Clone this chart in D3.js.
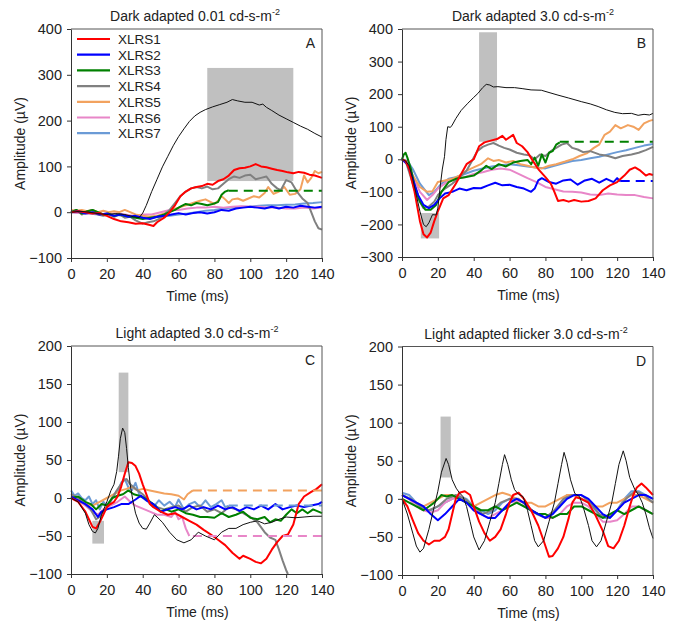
<!DOCTYPE html>
<html>
<head>
<meta charset="utf-8">
<script src="https://cdn.jsdelivr.net/npm/d3@7"></script>
<style>
  body { margin: 0; background: #fff; }
  svg { font-family: "Liberation Sans", Arial, sans-serif; }
</style>
</head>
<body>
<svg id="chart" width="678" height="623"></svg>
<script>
/* global d3: false */

const names = ['XLRS1', 'XLRS2', 'XLRS3', 'XLRS4', 'XLRS5', 'XLRS6', 'XLRS7'];
const colors = ['#ff0000', '#0000ff', '#008000', '#808080', '#f2a25f', '#e886c8', '#6b9bd6'];
const timeTicks = [0, 20, 40, 60, 80, 100, 120, 140];

// normal ranges: [t0, t1, low, high]
const aRange = [[76, 124, 68, 315]];
const bRange = [[43, 53, 54, 390], [10.5, 20.7, -243, -165]];
const cRange = [[26.6, 32, 34, 165], [11.9, 18.4, -60, -30]];
const dRange = [[21.5, 27.2, 28, 108]];

// ---- panel A: dark adapted 0.01 ----
const aNormal = [[0,0],[5,2],[10,0],[15,-3],[20,-5],[25,-3],[30,-5],[35,-10],[38,-12],[40,-2],[42,15],[45,45],[48,72],[51,99],[54,122],[57,145],[60,165],[63,182],[66,198],[69,210],[72,218],[75,224],[79,230],[83,235],[87,240],[90,246],[93,243],[97,240],[101,240],[105,234],[107,236],[109,229],[112,222],[116,212],[120,204],[124,196],[128,188],[132,181],[136,172],[140,164]];
const aX1 = [[0,0],[4,2],[8,0],[12,-3],[16,-2],[20,-8],[24,-15],[28,-20],[32,-22],[36,-25],[40,-24],[44,-28],[46,-30],[48,-22],[52,-12],[55,0],[58,15],[61,35],[64,45],[67,52],[70,55],[73,57],[76,62],[79,60],[82,68],[85,72],[88,80],[91,92],[94,96],[97,97],[100,100],[103,105],[106,100],[109,98],[112,95],[115,92],[118,90],[121,87],[124,85],[127,88],[130,86],[133,82],[136,80],[140,75]];
const aX2 = [[0,0],[4,2],[8,-3],[12,0],[16,-5],[20,-3],[24,-8],[28,-5],[32,-10],[36,-8],[40,-12],[44,-15],[48,-10],[52,-8],[56,-5],[60,-2],[64,-5],[68,-2],[72,0],[76,-3],[80,0],[84,5],[88,3],[92,8],[96,10],[100,12],[104,10],[108,8],[112,12],[116,8],[120,12],[124,10],[128,14],[132,12],[136,10],[140,12]];
const aX3 = [[0,0],[3,5],[6,-3],[9,2],[12,5],[15,0],[18,-5],[21,-3],[24,-8],[27,-5],[30,-8],[33,-10],[36,-12],[40,-15],[44,-12],[48,-10],[52,-5],[55,0],[58,5],[61,12],[64,18],[67,15],[70,20],[73,18],[76,15],[79,18],[82,22],[84,38],[86,45],[88,48]];
const aX3Dash = [[88,47],[140,47]];
const aX4 = [[0,0],[3,5],[6,-5],[9,0],[12,5],[15,-5],[18,-8],[21,-5],[24,-10],[27,-5],[30,-12],[33,-10],[36,-18],[40,-25],[43,-22],[46,-20],[49,-15],[52,-5],[55,5],[58,20],[61,35],[64,45],[67,52],[70,55],[73,52],[76,56],[79,50],[82,52],[85,62],[88,72],[91,78],[94,75],[97,80],[100,82],[103,72],[106,75],[109,78],[112,62],[115,52],[117,48],[120,70],[123,65],[126,45],[129,30],[132,20],[134,0],[136,-20],[138,-35],[140,-38]];
const aX5 = [[0,5],[3,3],[6,5],[9,2],[12,5],[15,0],[18,3],[21,0],[24,2],[27,0],[30,5],[33,0],[36,-5],[40,-8],[44,-10],[48,-8],[52,-3],[56,5],[60,10],[64,15],[68,20],[72,25],[75,28],[78,22],[80,18],[82,25],[84,35],[86,28],[88,20],[90,28],[93,30],[96,25],[99,30],[102,35],[105,32],[108,42],[110,55],[113,40],[116,45],[119,55],[122,38],[125,40],[128,50],[130,80],[132,65],[134,75],[136,90],[138,85],[140,88]];
const aX6 = [[0,0],[5,-2],[10,-3],[15,-2],[20,-5],[25,-3],[30,-5],[35,-8],[40,-5],[45,-5],[50,0],[55,5],[60,5],[65,8],[70,10],[75,10],[80,12],[85,10],[90,12],[95,13],[100,12],[105,12],[110,10],[115,10],[120,8],[125,8],[130,10],[135,8],[140,10]];
const aX7 = [[0,0],[5,-2],[10,-3],[15,-5],[20,-5],[25,-6],[30,-8],[35,-10],[40,-10],[45,-12],[50,-10],[55,-8],[60,-5],[65,-3],[70,0],[75,3],[80,5],[85,8],[90,10],[95,12],[100,12],[105,14],[110,15],[115,15],[120,16],[125,17],[130,19],[135,20],[140,22]];

// ---- panel B: dark adapted 3.0 ----
const bNormal = [[0,0],[2,-5],[4,-20],[6,-60],[8,-110],[10,-160],[12,-200],[13.5,-207],[15,-195],[17,-170],[19,-171],[20,-150],[21.4,-79],[22.5,-30],[23.7,8],[24.5,60],[25.5,100],[27,98],[28,105],[30,125],[33,150],[36.7,172],[40,190],[42.3,202],[45,220],[47,230],[49,228],[51,222],[53.5,223],[58,220],[62.8,220],[67,217],[72,213],[77.7,212],[82,205],[87,197],[93,188],[100,177],[105,170],[109.4,162],[114,152],[118.7,144],[123,140],[128,141],[131.7,135],[135,138],[138,136],[140,141]];
const bX1 = [[0,0],[2,-5],[4,-30],[7,-100],[10,-190],[12,-230],[14,-240],[16,-225],[18,-190],[20,-160],[23,-120],[26,-110],[30,-75],[33,-45],[36,-15],[40,0],[43,40],[46,52],[50,58],[53,62],[56,72],[58,60],[62,75],[64,50],[67,40],[70,22],[73,-5],[76,-30],[80,-55],[83,-75],[85,-100],[87,-128],[90,-125],[93,-130],[96,-125],[100,-130],[104,-128],[108,-120],[112,-95],[116,-80],[120,-70],[124,-50],[127,-32],[130,-25],[133,-35],[136,-50],[138,-45],[140,-48]];
const bX2 = [[0,0],[3,-15],[6,-60],[9,-110],[12,-140],[15,-150],[18,-140],[21,-120],[24,-105],[28,-100],[32,-90],[36,-95],[40,-88],[44,-89],[48,-80],[52,-72],[56,-80],[60,-78],[64,-85],[68,-90],[72,-100],[74,-90],[76,-65],[78,-58],[82,-70],[86,-75],[90,-65],[94,-62],[98,-78],[102,-65],[106,-60],[110,-72],[114,-60],[118,-70],[120,-58],[122,-68]];
const bX2Dash = [[122,-67],[140,-67]];
const bX3 = [[0,0],[1,15],[2,20],[3,5],[5,-30],[7,-80],[10,-130],[13,-155],[16,-155],[19,-140],[22,-100],[26,-70],[30,-60],[35,-55],[40,-50],[44,-35],[47,-20],[50,-30],[54,-15],[58,-22],[62,-10],[66,-5],[70,-2],[72,-15],[74,5],[76,-20],[78,15],[80,-10],[82,20],[84,25],[86,45],[88,52]];
const bX3Dash = [[88,54],[140,54]];
const bX4 = [[0,0],[2,-5],[4,-40],[8,-110],[12,-150],[15,-145],[18,-130],[20,-110],[24,-90],[28,-75],[32,-55],[36,-35],[39,-5],[42,25],[45,38],[48,45],[51,50],[54,42],[57,35],[60,30],[64,20],[68,15],[71,12],[74,0],[77,15],[80,10],[83,25],[86,35],[89,45],[92,50],[95,35],[98,30],[101,22],[105,25],[110,15],[115,10],[119,3],[123,10],[128,15],[132,20],[136,28],[140,38]];
const bX5 = [[0,0],[3,-15],[6,-50],[10,-85],[14,-100],[17,-98],[20,-70],[24,-65],[28,-60],[32,-50],[35,-38],[40,-25],[44,-15],[48,3],[51,-5],[54,-2],[58,-10],[62,-5],[66,-15],[70,-20],[74,-25],[78,-28],[82,-20],[86,-15],[91,-7],[95,0],[99,10],[103,18],[107,35],[110,45],[113,75],[116,85],[119,105],[122,95],[126,105],[129,100],[132,90],[135,110],[138,118],[140,121]];
const bX6 = [[0,0],[3,-10],[6,-50],[10,-100],[14,-125],[17,-110],[20,-90],[25,-70],[30,-60],[35,-55],[40,-45],[45,-40],[50,-32],[55,-28],[60,-32],[65,-45],[70,-58],[75,-70],[80,-85],[85,-92],[90,-99],[95,-100],[100,-102],[105,-108],[110,-110],[115,-105],[120,-108],[125,-110],[130,-110],[135,-116],[140,-120]];
const bX7 = [[0,0],[3,-5],[6,-30],[10,-75],[15,-110],[18,-100],[22,-75],[26,-60],[30,-55],[35,-45],[40,-35],[45,-28],[50,-22],[55,-18],[60,-15],[65,-18],[70,-22],[75,-25],[80,-28],[85,-20],[90,-12],[95,-5],[100,-2],[105,3],[110,8],[115,15],[120,22],[125,28],[130,35],[135,42],[140,47]];

// ---- panel C: light adapted 3.0 ----
const cNormal = [[0,0],[4,-5],[8,-20],[10,-35],[12,-44],[13.6,-46],[15,-40],[17,-22],[20,-5],[22.3,10],[24,18],[25.5,35],[26.5,55],[27.5,78],[28.8,92],[30,86],[31,65],[32,40],[33,18],[34.4,-2],[36,-20],[38,-33],[40,-40],[42,-41],[44,-33],[46.5,-22],[48,-25],[51,-32],[55,-45],[59,-55],[63,-59],[67,-55],[71,-45],[75,-50],[80,-55],[84,-45],[88,-40],[92,-40],[96,-35],[100,-32],[104,-30],[108,-34],[112,-32],[116,-28],[120,-25],[125,-26],[130,-25],[135,-24],[140,-24]];
const cX1 = [[0,0],[4,-5],[8,-18],[10,-28],[12,-38],[14,-40],[16,-32],[18,-22],[20,-12],[22,-8],[24,-5],[26,2],[28,15],[30,32],[32,47],[34,46],[36,42],[38,32],[40,18],[42,5],[44,-8],[46,-12],[50,-18],[54,-22],[58,-20],[62,-25],[66,-30],[70,-35],[74,-42],[78,-48],[82,-55],[86,-62],[90,-72],[94,-80],[96,-76],[100,-80],[103,-84],[106,-86],[109,-80],[112,-68],[115,-58],[118,-50],[121,-48],[124,-35],[127,-8],[130,2],[134,8],[137,12],[140,18]];
const cX2 = [[0,2],[4,-3],[8,-8],[12,-15],[15,-25],[17,-18],[20,-15],[24,-12],[28,-8],[32,-8],[36,-2],[39,3],[42,-3],[46,-8],[50,-18],[54,-15],[58,-12],[62,-15],[66,-10],[70,-15],[74,-12],[78,-15],[82,-10],[86,-15],[90,-12],[94,-17],[98,-12],[102,-15],[106,-10],[110,-15],[114,-8],[118,-15],[122,-12],[126,-10],[130,-12],[134,-10],[138,-8],[140,-5]];
const cX3 = [[0,0],[4,2],[8,-5],[11,-8],[14,-15],[17,-8],[20,-10],[23,0],[26,3],[29,5],[32,10],[35,5],[38,3],[41,0],[44,-5],[47,-10],[50,-18],[53,-15],[56,-18],[60,-15],[64,-20],[68,-22],[72,-25],[76,-25],[80,-26],[84,-20],[88,-25],[92,-22],[96,-18],[100,-26],[104,-28],[108,-25],[111,-32],[114,-28],[117,-30],[120,-22],[123,-15],[126,-20],[129,-15],[132,-20],[135,-15],[138,-18],[140,-20]];
const cX4 = [[0,5],[4,0],[8,-8],[11,-15],[14,-28],[16,-25],[19,-15],[22,-5],[25,8],[27,15],[29,22],[31,25],[33,18],[36,12],[40,5],[44,-5],[48,-12],[52,-15],[56,-12],[60,-10],[64,-18],[68,-12],[72,-10],[76,-18],[80,-15],[84,-20],[88,-12],[92,-15],[96,-20],[100,-25],[104,-32],[108,-45],[111,-52],[114,-55],[116,-68],[118,-82],[120,-95],[121,-100]];
const cX5 = [[0,0],[4,-3],[8,-8],[12,-10],[16,-5],[20,0],[24,5],[28,10],[31,12],[34,15],[37,10],[40,12],[44,10],[48,8],[52,6],[56,5],[60,3],[63,-2],[65,5],[68,10]];
const cX5Dash = [[68,10],[140,10]];
const cX6 = [[0,0],[4,-3],[8,-10],[12,-18],[15,-22],[18,-15],[22,-10],[26,-5],[30,2],[33,-5],[36,-10],[40,-14],[44,-18],[48,-22],[52,-22],[56,-25],[58,-18],[60,-28],[62,-25],[64,-40],[66,-50]];
const cX6Dash = [[68,-50],[140,-50]];
const cX7 = [[0,10],[2,3],[4,6],[6,0],[8,-3],[10,2],[12,-8],[14,-3],[16,-15],[18,-5],[20,-10],[22,-3],[24,5],[26,8],[28,20],[30,25],[32,14],[34,10],[36,20],[38,5],[40,0],[43,-5],[46,-12],[49,-3],[52,-10],[55,-5],[58,-12],[60,-2],[63,-15],[66,-8],[69,-5],[72,-12],[75,-3],[78,-12],[81,-8],[84,-3],[86,-12],[88,-10]];
const cX7Dash = [[88,-10],[140,-10]];

// ---- panel D: light adapted flicker 3.0 ----
const dNormal = [[0,0],[3,-20],[6,-45],[8,-62],[10,-70],[12,-65],[15,-40],[18,-10],[20,10],[22,35],[24.6,53],[26,45],[28,25],[30.2,14],[32,8],[34,3],[36,-10],[38,-30],[40,-50],[43,-67],[46,-55],[49,-30],[52,-5],[54,20],[56,45],[57.2,58],[59,45],[61,25],[62.8,12],[65,6],[67.5,3],[70,-15],[72,-35],[74,-55],[76,-63],[79,-55],[82,-30],[85,-5],[87,20],[89,45],[90.4,61],[92,48],[94,25],[96.4,7],[99,3],[101,-10],[104,-35],[106,-55],[108.5,-63],[111,-55],[114,-30],[117,-5],[119,20],[121,45],[123.4,63],[125,50],[127,28],[129.9,12],[132,5],[134,-5],[136,-20],[138,-38],[140,-52]];
const dX1 = [[0,0],[3,-10],[6,-28],[9,-45],[12,-55],[15,-60],[18,-55],[21,-55],[24,-50],[26,-40],[28,-20],[30,0],[32,8],[35,10],[38,5],[40,-10],[43,-30],[46,-45],[49,-55],[52,-50],[55,-40],[58,-20],[60,-5],[62,5],[65,8],[68,0],[72,-15],[76,-35],[79,-55],[82,-76],[84,-75],[87,-65],[90,-50],[93,-25],[95,-5],[97,2],[100,0],[104,-5],[108,-22],[112,-42],[115,-62],[118,-65],[121,-55],[124,-35],[127,-10],[129,5],[131,15],[133.6,20],[136,15],[138,10],[140,5]];
const dX2 = [[0,5],[4,0],[8,-5],[12,-10],[16,-20],[20,-28],[24,-20],[28,-10],[32,0],[36,-5],[40,-15],[44,-20],[48,-25],[52,-25],[56,-15],[60,-5],[64,0],[68,-5],[72,-15],[76,-20],[80,-25],[84,-20],[88,-10],[92,0],[96,5],[100,5],[104,0],[108,-10],[112,-20],[116,-25],[120,-15],[124,-5],[128,0],[132,5],[136,5],[140,0]];
const dX3 = [[0,0],[4,-5],[8,-10],[12,-15],[15,-10],[18,-5],[20,0],[22,5],[25,3],[28,5],[32,0],[36,-5],[40,-10],[44,-15],[48,-15],[52,-10],[56,-15],[60,-10],[64,-5],[68,-10],[72,-15],[76,-20],[80,-20],[84,-25],[88,-20],[92,-20],[96,-10],[100,-10],[104,-15],[108,-20],[112,-25],[116,-20],[120,-15],[124,-20],[128,-15],[132,-10],[136,-15],[140,-20]];
const dX4 = [[0,5],[5,0],[10,-10],[15,-15],[20,-10],[25,0],[30,5],[35,0],[40,-10],[45,-20],[50,-15],[55,-5],[60,0],[65,0],[70,-10],[75,-20],[80,-25],[85,-15],[90,0],[95,5],[100,5],[105,-5],[110,-20],[115,-25],[120,-15],[125,0],[130,10],[135,5],[140,-5]];
const dX5 = [[0,5],[4,0],[8,-5],[12,-10],[16,-5],[20,0],[24,5],[28,5],[32,0],[36,-5],[40,-10],[44,-5],[48,0],[52,5],[56,8],[60,5],[64,0],[68,-5],[72,-5],[76,-10],[80,-10],[84,-5],[88,0],[92,5],[96,5],[100,0],[104,-5],[108,-10],[112,-10],[116,-5],[120,-5],[124,0],[128,5],[132,5],[136,0],[140,-5]];
const dX6 = [[0,5],[4,0],[8,-10],[12,-15],[16,-18],[20,-15],[24,-5],[28,0],[32,5],[36,-5],[40,-15],[44,-20],[48,-25],[52,-20],[56,-15],[60,-5],[64,-3],[68,-5],[72,-15],[76,-20],[80,-25],[84,-25],[88,-20],[92,-10],[96,-5],[100,-5],[104,-10],[108,-20],[112,-30],[116,-30],[120,-28],[124,-20],[128,-10],[132,-10],[136,-15],[140,-20]];
const dX7 = [[0,8],[4,5],[8,-5],[12,-15],[16,-15],[20,-10],[24,-5],[28,0],[32,3],[36,0],[40,-10],[44,-15],[48,-20],[52,-15],[56,-5],[60,0],[64,-5],[68,-10],[72,-15],[76,-20],[80,-25],[84,-20],[88,-10],[92,5],[96,5],[100,0],[104,-5],[108,-15],[112,-25],[116,-25],[120,-15],[124,0],[128,10],[132,10],[136,5],[140,0]];

const panels = [
  {
    x0: 71, x1: 322, y0: 29, y1: 258, domain: [-100, 400], ticks: d3.range(-100, 401, 100),
    title: 'Dark adapted 0.01 cd-s-m', titleX: 195, letter: 'A',
    range: aRange, normal: aNormal,
    series: [aX1, aX2, aX3, aX4, aX5, aX6, aX7],
    dashes: [[2, aX3Dash]], legend: true,
  },
  {
    x0: 402, x1: 653, y0: 29, y1: 257, domain: [-300, 400], ticks: d3.range(-300, 401, 100),
    title: 'Dark adapted 3.0 cd-s-m', titleX: 533, letter: 'B',
    range: bRange, normal: bNormal,
    series: [bX1, bX2, bX3, bX4, bX5, bX6, bX7],
    dashes: [[2, bX3Dash], [1, bX2Dash]],
  },
  {
    x0: 71, x1: 322, y0: 346, y1: 574, domain: [-100, 200], ticks: d3.range(-100, 201, 50),
    title: 'Light adapted 3.0 cd-s-m', titleX: 197, letter: 'C',
    range: cRange, normal: cNormal,
    series: [cX1, cX2, cX3, cX4, cX5, cX6, cX7],
    dashes: [[4, cX5Dash], [5, cX6Dash], [6, cX7Dash]],
  },
  {
    x0: 402, x1: 653, y0: 346.5, y1: 575, domain: [-100, 200], ticks: d3.range(-100, 201, 50),
    title: 'Light adapted flicker 3.0 cd-s-m', titleX: 526, letter: 'D',
    range: dRange, normal: dNormal,
    series: [dX1, dX2, dX3, dX4, dX5, dX6, dX7],
    dashes: [],
  },
];

const svg = d3.select('#chart');
const fontSize = 14;
const tickFont = 14.5;

function drawPanel(p) {
  const x = d3.scaleLinear().domain([0, 140]).range([p.x0, p.x1]);
  const y = d3.scaleLinear().domain(p.domain).range([p.y1, p.y0]);
  const line = d3.line().x(d => x(d[0])).y(d => y(d[1]));
  const g = svg.append('g');

  // normal range boxes
  g.selectAll('rect.range')
    .data(p.range)
    .enter()
    .append('rect')
    .attr('x', d => x(d[0]))
    .attr('width', d => x(d[1]) - x(d[0]))
    .attr('y', d => y(d[3]))
    .attr('height', d => y(d[2]) - y(d[3]))
    .attr('fill', '#c0c0c0');

  // patients, last drawn on top
  for (let i = p.series.length - 1; i >= 0; i -= 1) {
    g.append('path')
      .datum(p.series[i])
      .attr('d', line)
      .attr('fill', 'none')
      .attr('stroke', colors[i])
      .attr('stroke-width', 2)
      .attr('stroke-linejoin', 'round');
  }
  p.dashes.forEach((d) => {
    g.append('path')
      .datum(d[1])
      .attr('d', line)
      .attr('fill', 'none')
      .attr('stroke', colors[d[0]])
      .attr('stroke-width', 2)
      .attr('stroke-dasharray', '9,6');
  });

  // normal control
  g.append('path')
    .datum(p.normal)
    .attr('d', line)
    .attr('fill', 'none')
    .attr('stroke', '#111')
    .attr('stroke-width', 1);

  // frame
  g.append('path')
    .attr('d', `M${p.x0},${p.y0}H${p.x1}V${p.y1}`)
    .attr('fill', 'none')
    .attr('stroke', '#555')
    .attr('stroke-width', 1);

  const xAxis = g.append('g')
    .attr('transform', `translate(0,${p.y1})`)
    .call(d3.axisBottom(x).tickValues(timeTicks).tickSize(4).tickSizeOuter(0).tickPadding(7));
  const yAxis = g.append('g')
    .attr('transform', `translate(${p.x0},0)`)
    .call(d3.axisLeft(y).tickValues(p.ticks).tickSize(4).tickSizeOuter(0).tickPadding(5));
  [xAxis, yAxis].forEach((a) => {
    a.selectAll('text').attr('font-size', tickFont).attr('fill', '#222')
      .attr('font-family', '"Liberation Sans", Arial, sans-serif');
    a.selectAll('line, path').attr('stroke', '#333');
  });

  const title = g.append('text')
    .attr('x', p.titleX)
    .attr('y', p.y0 - 8)
    .attr('text-anchor', 'middle')
    .attr('font-size', fontSize)
    .attr('fill', '#222');
  title.append('tspan').text(p.title);
  title.append('tspan').attr('dy', -6).attr('font-size', 9).text('-2');

  g.append('text')
    .attr('x', p.x1 - 7)
    .attr('y', p.y0 + 19)
    .attr('text-anchor', 'end')
    .attr('font-size', fontSize)
    .attr('fill', '#222')
    .text(p.letter);

  g.append('text')
    .attr('x', (p.x0 + p.x1) / 2 + 1)
    .attr('y', p.y1 + 43)
    .attr('text-anchor', 'middle')
    .attr('font-size', fontSize)
    .attr('fill', '#222')
    .text('Time (ms)');

  g.append('text')
    .attr('transform', `translate(${p.x0 - 46},${(p.y0 + p.y1) / 2}) rotate(-90)`)
    .attr('text-anchor', 'middle')
    .attr('font-size', fontSize)
    .attr('fill', '#222')
    .text('Amplitude (\u00b5V)');

  if (p.legend) {
    const lg = g.append('g');
    const rows = lg.selectAll('g')
      .data(names)
      .enter()
      .append('g')
      .attr('transform', (d, i) => `translate(77,${39 + i * 15.7})`);
    rows.append('line')
      .attr('x1', 0).attr('x2', 33)
      .attr('stroke', (d, i) => colors[i])
      .attr('stroke-width', 2.2);
    rows.append('text')
      .attr('x', 41)
      .attr('y', 5)
      .attr('font-size', 13.5)
      .attr('fill', '#222')
      .text(d => d);
  }
}

panels.forEach(drawPanel);
</script>
</body>
</html>
